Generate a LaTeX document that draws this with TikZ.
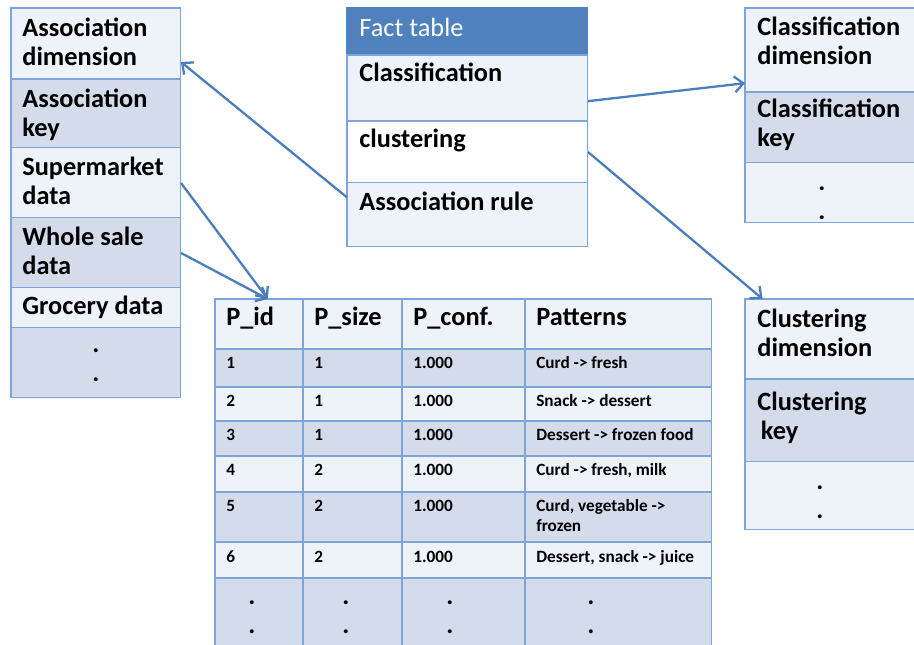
\documentclass[tikz,border=0pt]{standalone}
\usepackage{fontspec}
\setmainfont{Carlito}
\usetikzlibrary{positioning,arrows.meta}

\definecolor{lite}{RGB}{238,242,249}
\definecolor{dark}{RGB}{212,220,236}
\definecolor{hdr}{RGB}{79,129,189}
\definecolor{edge}{RGB}{125,165,215}
\definecolor{arrowc}{RGB}{74,126,190}

% multi-line nodes sit on the baseline of their last line
\tikzset{
  box/.style={draw=edge, line width=0.6pt, inner sep=0pt, outer sep=0pt},
  lbl/.style={font=\bfseries\fontsize{15}{17}\selectfont, anchor=base west, inner sep=0pt, align=left},
  small/.style={font=\bfseries\fontsize{9.8}{11.5}\selectfont, anchor=base west, inner sep=0pt, align=left},
  dots/.style={font=\bfseries\fontsize{15}{17}\selectfont, anchor=base, inner sep=0pt, align=center},
  conn/.style={draw=arrowc, line width=1.3pt, -{Straight Barb[length=5pt,width=9pt]}}
}

\begin{document}
\begin{tikzpicture}[x=0.02cm, y=-0.02cm]
    \clip (0,0) rectangle (914,645);

    % association dimension
    \node[box, fill=lite, minimum width=3.4cm, minimum height=1.42cm, anchor=north west] (a1) at (11,8) {};
    \node[box, fill=dark, minimum width=3.4cm, minimum height=1.38cm, below=0pt of a1] (a2) {};
    \node[box, fill=lite, minimum width=3.4cm, minimum height=1.40cm, below=0pt of a2] (a3) {};
    \node[box, fill=dark, minimum width=3.4cm, minimum height=1.40cm, below=0pt of a3] (a4) {};
    \node[box, fill=lite, minimum width=3.4cm, minimum height=0.80cm, below=0pt of a4] (a5) {};
    \node[box, fill=dark, minimum width=3.4cm, minimum height=1.40cm, below=0pt of a5] (a6) {};
    \node[lbl] (ta1) at ([shift={(11,58)}]a1.north west) {Association\\dimension};
    \node[lbl] (ta2) at ([shift={(11,58)}]a2.north west) {Association\\key};
    \node[lbl] (ta3) at ([shift={(11,57)}]a3.north west) {Supermarket\\data};
    \node[lbl] (ta4) at ([shift={(11,57)}]a4.north west) {Whole sale\\data};
    \node[lbl] (ta5) at ([shift={(11,27)}]a5.north west) {Grocery data};
    \node[dots] (ta6) at ([shift={(85,54)}]a6.north west) {.\\.};

    % fact table
    \node[box, fill=hdr, draw=hdr, minimum width=4.82cm, minimum height=0.94cm, anchor=north west] (hd) at (347,8) {};
    \node[box, fill=lite, minimum width=4.82cm, minimum height=1.32cm, below=0pt of hd] (f1) {};
    \node[box, fill=white, minimum width=4.82cm, minimum height=1.24cm, below=0pt of f1] (f2) {};
    \node[box, fill=lite, minimum width=4.82cm, minimum height=1.28cm, below=0pt of f2] (f3) {};
    \node[lbl, font=\fontsize{15}{17}\selectfont, text=white] (thd) at ([shift={(12,29)}]hd.north west) {Fact table};
    \node[lbl] (tf1) at ([shift={(12,27)}]f1.north west) {Classification};
    \node[lbl] (tf2) at ([shift={(12,27)}]f2.north west) {clustering};
    \node[lbl] (tf3) at ([shift={(12,28)}]f3.north west) {Association rule};

    % classification dimension
    \node[box, fill=lite, minimum width=3.42cm, minimum height=1.68cm, anchor=north west] (c1) at (745,8) {};
    \node[box, fill=dark, minimum width=3.42cm, minimum height=1.42cm, below=0pt of c1] (c2) {};
    \node[box, fill=lite, minimum width=3.42cm, minimum height=1.20cm, below=0pt of c2] (c3) {};
    \node[lbl] (tc1) at ([shift={(12,57)}]c1.north west) {Classification\\dimension};
    \node[lbl] (tc2) at ([shift={(12,55)}]c2.north west) {Classification\\key};
    \node[dots] (tc3) at ([shift={(77,57)}]c3.north west) {.\\.};

    % clustering dimension
    \node[box, fill=lite, minimum width=3.42cm, minimum height=1.60cm, anchor=north west] (d1) at (745,299) {};
    \node[box, fill=dark, minimum width=3.42cm, minimum height=1.66cm, below=0pt of d1] (d2) {};
    \node[box, fill=lite, minimum width=3.42cm, minimum height=1.36cm, below=0pt of d2] (d3) {};
    \node[lbl] (td1) at ([shift={(12,58)}]d1.north west) {Clustering\\dimension};
    \node[lbl] (td2) at ([shift={(12,61)}]d2.north west) {Clustering\\\hspace{2pt}key};
    \node[dots] (td3) at ([shift={(75,57)}]d3.north west) {.\\.};

    % pattern table
    \foreach \r/\top/\h/\f in {0/299/1.00cm/lite,1/349/0.76cm/dark,2/387/0.68cm/lite,3/421/0.70cm/dark,
                               4/456/0.72cm/lite,5/492/1.00cm/dark,6/542/0.72cm/lite,7/578/1.44cm/dark}{
      \foreach \c/\x/\w in {1/215/1.76cm,2/303/1.98cm,3/402/2.46cm,4/525/3.74cm}
        \node[box, fill=\f, minimum width=\w, minimum height=\h, anchor=north west] (p\r-\c) at (\x,\top) {};
    }
    \foreach \c/\t in {1/P\_id,2/P\_size,3/P\_conf.,4/Patterns}
      \node[lbl] (h\c) at ([shift={(11,27)}]p0-\c.north west) {\t};
    \foreach \r/\a/\b in {1/1/1,2/2/1,3/3/1,4/4/2,5/5/2,6/6/2}{
      \node[small] (n\r-1) at ([shift={(11,20)}]p\r-1.north west) {\a};
      \node[small] (n\r-2) at ([shift={(11,20)}]p\r-2.north west) {\b};
      \node[small] (n\r-3) at ([shift={(11,20)}]p\r-3.north west) {1.000};
    }
    \node[small] (n1-4) at ([shift={(11,20)}]p1-4.north west) {Curd -> fresh};
    \node[small] (n2-4) at ([shift={(11,20)}]p2-4.north west) {Snack -> dessert};
    \node[small] (n3-4) at ([shift={(11,20)}]p3-4.north west) {Dessert -> frozen food};
    \node[small] (n4-4) at ([shift={(11,20)}]p4-4.north west) {Curd -> fresh, milk};
    \node[small] (n5-4) at ([shift={(11,40)}]p5-4.north west) {Curd, vegetable ->\\frozen};
    \node[small] (n6-4) at ([shift={(11,20)}]p6-4.north west) {Dessert, snack -> juice};
    \foreach \c/\dx in {1/37,2/43,3/48,4/66}
      \node[dots] (e\c) at ([shift={(\dx,56)}]p7-\c.north west) {.\\.};

    % links
    \draw[conn] ([yshift=10pt]f3.west) -- ([yshift=-10.5pt]a1.east);
    \draw[conn] ([yshift=-7.5pt]f1.east) -- ([yshift=5pt]c1.south west);
    \draw[conn] (f2.east) -- ([xshift=10pt]d1.north west);
    \draw[conn] (a3.east) -- ([xshift=5pt]p0-1.north);
    \draw[conn] (a4.east) -- ([xshift=5pt]p0-1.north);
\end{tikzpicture}
\end{document}
